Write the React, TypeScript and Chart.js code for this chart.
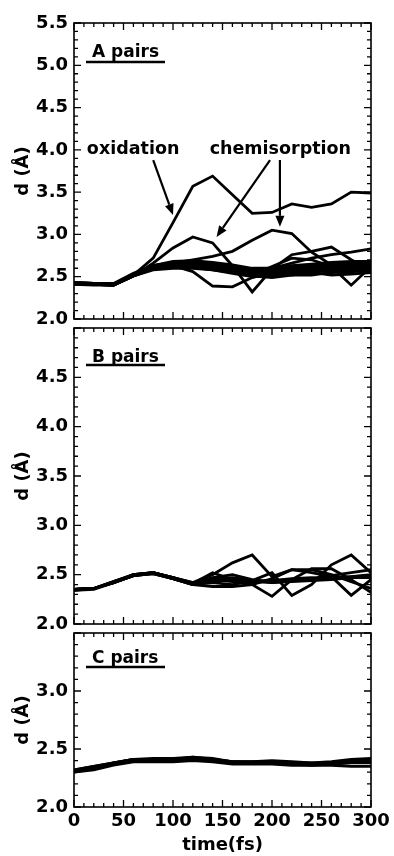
import React, { useEffect, useRef } from 'react';
import { Chart, registerables } from 'chart.js';

Chart.register(...registerables);

// ---------------- data ----------------
const TIME = [0, 20, 40, 60, 80, 100, 120, 140, 160, 180, 200, 220, 240, 260, 280, 300];
const X_TICK_STEP = 50;
const X_MINOR_STEP = 10;
const Y_TICK_STEP = 0.5;
const Y_MINOR_STEP = 0.1;

// Panel A: A pairs
const A_OXIDATION = [2.43, 2.42, 2.41, 2.52, 2.72, 3.14, 3.57, 3.69, 3.47, 3.25, 3.26, 3.36, 3.32, 3.36, 3.50, 3.49];
const A_CHEM_1 = [2.42, 2.41, 2.40, 2.51, 2.66, 2.84, 2.97, 2.90, 2.63, 2.32, 2.59, 2.76, 2.80, 2.85, 2.70, 2.58];
const A_CHEM_2 = [2.42, 2.41, 2.41, 2.52, 2.62, 2.66, 2.70, 2.74, 2.80, 2.93, 3.05, 3.01, 2.79, 2.64, 2.56, 2.60];
const A_RISE = [2.42, 2.41, 2.41, 2.52, 2.62, 2.65, 2.66, 2.64, 2.60, 2.57, 2.60, 2.66, 2.72, 2.76, 2.79, 2.83];
const A_DIP = [2.42, 2.41, 2.41, 2.52, 2.62, 2.63, 2.56, 2.39, 2.38, 2.49, 2.55, 2.52, 2.52, 2.55, 2.56, 2.57];
const A_DROP = [2.42, 2.41, 2.41, 2.52, 2.63, 2.66, 2.66, 2.62, 2.56, 2.52, 2.62, 2.72, 2.70, 2.62, 2.40, 2.62];
const A_B1 = [2.43, 2.42, 2.41, 2.53, 2.62, 2.66, 2.67, 2.65, 2.62, 2.58, 2.58, 2.61, 2.63, 2.65, 2.66, 2.66];
const A_B2 = [2.42, 2.41, 2.40, 2.52, 2.60, 2.63, 2.64, 2.62, 2.58, 2.55, 2.56, 2.60, 2.62, 2.64, 2.65, 2.64];
const A_B3 = [2.41, 2.40, 2.40, 2.51, 2.59, 2.62, 2.62, 2.60, 2.56, 2.52, 2.53, 2.57, 2.60, 2.62, 2.63, 2.62];
const A_B4 = [2.43, 2.42, 2.42, 2.54, 2.63, 2.68, 2.69, 2.67, 2.64, 2.60, 2.60, 2.63, 2.65, 2.67, 2.68, 2.68];
const A_B5 = [2.42, 2.41, 2.41, 2.52, 2.61, 2.64, 2.65, 2.63, 2.60, 2.56, 2.57, 2.59, 2.61, 2.63, 2.64, 2.65];
const A_B6 = [2.42, 2.41, 2.40, 2.51, 2.60, 2.62, 2.61, 2.58, 2.54, 2.50, 2.50, 2.54, 2.57, 2.59, 2.60, 2.60];
const A_B7 = [2.43, 2.42, 2.41, 2.53, 2.62, 2.65, 2.66, 2.64, 2.61, 2.57, 2.55, 2.58, 2.62, 2.64, 2.62, 2.64];
const A_B8 = [2.41, 2.41, 2.40, 2.51, 2.58, 2.60, 2.60, 2.58, 2.55, 2.51, 2.49, 2.52, 2.56, 2.57, 2.58, 2.56];
const A_B9 = [2.42, 2.42, 2.41, 2.53, 2.63, 2.67, 2.66, 2.61, 2.57, 2.54, 2.58, 2.62, 2.64, 2.66, 2.67, 2.67];
const A_B10 = [2.42, 2.41, 2.41, 2.52, 2.61, 2.63, 2.63, 2.61, 2.59, 2.55, 2.54, 2.56, 2.59, 2.61, 2.62, 2.63];
const A_B11 = [2.42, 2.41, 2.40, 2.51, 2.60, 2.62, 2.62, 2.59, 2.56, 2.53, 2.52, 2.55, 2.55, 2.52, 2.53, 2.55];

// Panel B: B pairs
const B_1 = [2.35, 2.36, 2.43, 2.50, 2.52, 2.47, 2.42, 2.50, 2.62, 2.70, 2.48, 2.55, 2.55, 2.50, 2.43, 2.36];
const B_2 = [2.35, 2.36, 2.42, 2.49, 2.52, 2.46, 2.41, 2.52, 2.45, 2.40, 2.28, 2.45, 2.56, 2.56, 2.45, 2.32];
const B_3 = [2.35, 2.36, 2.42, 2.49, 2.51, 2.46, 2.40, 2.42, 2.40, 2.44, 2.52, 2.29, 2.40, 2.60, 2.70, 2.52];
const B_4 = [2.34, 2.35, 2.42, 2.49, 2.51, 2.46, 2.40, 2.38, 2.38, 2.40, 2.46, 2.55, 2.52, 2.48, 2.29, 2.45];
const B_5 = [2.35, 2.36, 2.43, 2.50, 2.52, 2.47, 2.41, 2.47, 2.50, 2.45, 2.42, 2.44, 2.46, 2.49, 2.52, 2.55];
const B_6 = [2.35, 2.36, 2.42, 2.50, 2.52, 2.46, 2.41, 2.46, 2.47, 2.44, 2.43, 2.44, 2.45, 2.46, 2.48, 2.49];
const B_7 = [2.35, 2.36, 2.43, 2.49, 2.52, 2.47, 2.41, 2.44, 2.45, 2.43, 2.42, 2.43, 2.44, 2.45, 2.47, 2.47];
const B_8 = [2.34, 2.36, 2.42, 2.49, 2.51, 2.46, 2.40, 2.43, 2.46, 2.44, 2.44, 2.45, 2.46, 2.47, 2.48, 2.50];
const B_9 = [2.35, 2.36, 2.42, 2.50, 2.52, 2.47, 2.42, 2.45, 2.43, 2.42, 2.44, 2.46, 2.47, 2.46, 2.47, 2.48];

// Panel C: C pairs
const C_1 = [2.32, 2.35, 2.38, 2.41, 2.41, 2.41, 2.42, 2.41, 2.39, 2.38, 2.39, 2.38, 2.37, 2.37, 2.39, 2.40];
const C_2 = [2.30, 2.33, 2.37, 2.40, 2.40, 2.40, 2.41, 2.40, 2.38, 2.38, 2.38, 2.37, 2.36, 2.37, 2.38, 2.38];
const C_3 = [2.31, 2.34, 2.38, 2.41, 2.41, 2.41, 2.43, 2.41, 2.39, 2.39, 2.39, 2.38, 2.38, 2.38, 2.40, 2.41];
const C_4 = [2.30, 2.32, 2.36, 2.39, 2.39, 2.39, 2.40, 2.39, 2.37, 2.37, 2.37, 2.36, 2.36, 2.36, 2.35, 2.35];
const C_5 = [2.31, 2.34, 2.37, 2.40, 2.40, 2.40, 2.41, 2.40, 2.38, 2.38, 2.38, 2.37, 2.37, 2.38, 2.39, 2.39];
const C_6 = [2.32, 2.35, 2.38, 2.41, 2.42, 2.42, 2.43, 2.42, 2.39, 2.39, 2.40, 2.39, 2.38, 2.39, 2.41, 2.42];

// Annotations (data coordinates of panel A)
const ANNOT_TEXTS = [
  { text: 'oxidation', t: 13, v: 3.95 },
  { text: 'chemisorption', t: 137, v: 3.95 },
];
const ANNOT_ARROWS = [
  { from: [80, 3.88], to: [100, 3.23] },
  { from: [198, 3.88], to: [144, 2.97] },
  { from: [208, 3.88], to: [208, 3.09] },
];

const FONT = "'DejaVu Sans', 'Liberation Sans', sans-serif";

type PanelProps = {
  series: number[][];
  yMin: number;
  yMax: number;
  hideTop: boolean;
  showX: boolean;
  label: string;
  labelBase: number;
  underline: number;
  top: number;
  height: number;
  padTop: number;
  padBottom: number;
  annotate?: boolean;
};

function Panel(p: PanelProps) {
  const ref = useRef<HTMLCanvasElement | null>(null);
  useEffect(() => {
    if (!ref.current) return;
    const datasets = p.series.map((s) => ({
      data: TIME.map((t, i) => ({ x: t, y: s[i] })),
      borderColor: '#000',
      borderWidth: 2.8,
      pointRadius: 0,
      tension: 0,
      fill: false,
    }));

    const framePlugin = {
      id: 'frame',
      afterDatasetsDraw(chart: any) {
        const { ctx, chartArea } = chart;
        const { left, right, top, bottom } = chartArea;
        const x = chart.scales.x;
        const y = chart.scales.y;
        ctx.save();
        ctx.strokeStyle = '#000';
        ctx.lineWidth = 1.6;
        ctx.strokeRect(left, top, right - left, bottom - top);
        ctx.lineWidth = 1.3;
        const nY = Math.round((p.yMax - p.yMin) / Y_MINOR_STEP);
        for (let k = 0; k <= nY; k++) {
          const v = p.yMin + k * Y_MINOR_STEP;
          const py = y.getPixelForValue(v);
          const major = k % Math.round(Y_TICK_STEP / Y_MINOR_STEP) === 0;
          const len = major ? 7 : 4;
          ctx.beginPath();
          ctx.moveTo(left, py);
          ctx.lineTo(left + len, py);
          ctx.moveTo(right, py);
          ctx.lineTo(right - len, py);
          ctx.stroke();
        }
        const xMax = TIME[TIME.length - 1];
        for (let t = 0; t <= xMax; t += X_MINOR_STEP) {
          const px = x.getPixelForValue(t);
          const len = t % X_TICK_STEP === 0 ? 7 : 4;
          ctx.beginPath();
          ctx.moveTo(px, bottom);
          ctx.lineTo(px, bottom - len);
          ctx.moveTo(px, top);
          ctx.lineTo(px, top + len);
          ctx.stroke();
        }
        // panel label
        ctx.fillStyle = '#000';
        ctx.font = `bold 17px ${FONT}`;
        ctx.textBaseline = 'alphabetic';
        ctx.textAlign = 'left';
        ctx.fillText(p.label, left + 18, top + p.labelBase);
        ctx.lineWidth = 2.6;
        ctx.beginPath();
        ctx.moveTo(left + 12, top + p.underline);
        ctx.lineTo(left + 91, top + p.underline);
        ctx.stroke();

        if (p.annotate) {
          ctx.font = `bold 17.5px ${FONT}`;
          ANNOT_TEXTS.forEach((a) => {
            ctx.fillText(a.text, x.getPixelForValue(a.t), y.getPixelForValue(a.v));
          });
          ANNOT_ARROWS.forEach((a) => {
            const x0 = x.getPixelForValue(a.from[0]);
            const y0 = y.getPixelForValue(a.from[1]);
            const x1 = x.getPixelForValue(a.to[0]);
            const y1 = y.getPixelForValue(a.to[1]);
            const ang = Math.atan2(y1 - y0, x1 - x0);
            const hl = 11;
            const hw = 4.5;
            const bx = x1 - hl * Math.cos(ang);
            const by = y1 - hl * Math.sin(ang);
            ctx.lineWidth = 2.2;
            ctx.beginPath();
            ctx.moveTo(x0, y0);
            ctx.lineTo(bx, by);
            ctx.stroke();
            ctx.beginPath();
            ctx.moveTo(x1, y1);
            ctx.lineTo(bx + hw * Math.sin(ang), by - hw * Math.cos(ang));
            ctx.lineTo(bx - hw * Math.sin(ang), by + hw * Math.cos(ang));
            ctx.closePath();
            ctx.fill();
          });
        }
        ctx.restore();
      },
    };

    const tickFont = { family: FONT, size: 18, weight: 'bold' as const, lineHeight: 1.2 };

    const chart = new Chart(ref.current, {
      type: 'line',
      data: { datasets },
      plugins: [framePlugin],
      options: {
        animation: false,
        responsive: false,
        devicePixelRatio: 1,
        layout: { padding: { top: p.padTop, bottom: p.padBottom, left: 0, right: 23 } },
        plugins: { legend: { display: false }, tooltip: { enabled: false } },
        scales: {
          x: {
            type: 'linear',
            min: TIME[0],
            max: TIME[TIME.length - 1],
            display: p.showX,
            grid: { display: false, drawTicks: false },
            border: { display: false },
            ticks: {
              stepSize: X_TICK_STEP,
              color: '#000',
              padding: 4,
              font: tickFont,
              maxRotation: 0,
              callback: (v: any) => String(v),
            },
            title: {
              display: true,
              text: 'time(fs)',
              color: '#000',
              font: tickFont,
              padding: { top: 0, bottom: 0 },
            },
            afterFit: (s: any) => {
              s.height = p.showX ? 49 : 0;
            },
          },
          y: {
            type: 'linear',
            min: p.yMin,
            max: p.yMax,
            grid: { display: false, drawTicks: false },
            border: { display: false },
            ticks: {
              stepSize: Y_TICK_STEP,
              color: '#000',
              padding: 6,
              font: tickFont,
              callback: (v: any) => (p.hideTop && Math.abs(Number(v) - p.yMax) < 1e-6 ? '' : Number(v).toFixed(1)),
            },
            title: {
              display: true,
              text: 'd (Å)',
              color: '#000',
              font: tickFont,
              padding: { top: 13, bottom: 0 },
            },
            afterFit: (s: any) => {
              s.width = 74;
            },
          },
        },
      },
    } as any);
    return () => chart.destroy();
  }, []);

  return (
    <canvas
      ref={ref}
      width={394}
      height={p.height}
      style={{ position: 'absolute', left: 0, top: p.top, width: 394, height: p.height }}
    />
  );
}

export default function App() {
  return (
    <div style={{ position: 'absolute', left: 0, top: 0, width: 394, height: 856, background: '#fff', overflow: 'hidden' }}>
      <Panel
        series={[A_B1, A_B2, A_B3, A_B4, A_B5, A_B6, A_B7, A_B8, A_B9, A_B10, A_B11, A_DIP, A_DROP, A_RISE, A_CHEM_2, A_CHEM_1, A_OXIDATION]}
        yMin={2.0}
        yMax={5.5}
        hideTop={false}
        showX={false}
        label="A pairs"
        labelBase={34}
        underline={39}
        top={0}
        height={340}
        padTop={23}
        padBottom={21}
        annotate
      />
      <Panel
        series={[B_6, B_7, B_8, B_9, B_5, B_4, B_3, B_2, B_1]}
        yMin={2.0}
        yMax={5.0}
        hideTop={true}
        showX={false}
        label="B pairs"
        labelBase={34}
        underline={37}
        top={300}
        height={345}
        padTop={28}
        padBottom={21}
      />
      <Panel
        series={[C_1, C_2, C_3, C_4, C_5, C_6]}
        yMin={2.0}
        yMax={3.5}
        hideTop={true}
        showX={true}
        label="C pairs"
        labelBase={30}
        underline={34}
        top={600}
        height={256}
        padTop={33}
        padBottom={0}
      />
    </div>
  );
}
